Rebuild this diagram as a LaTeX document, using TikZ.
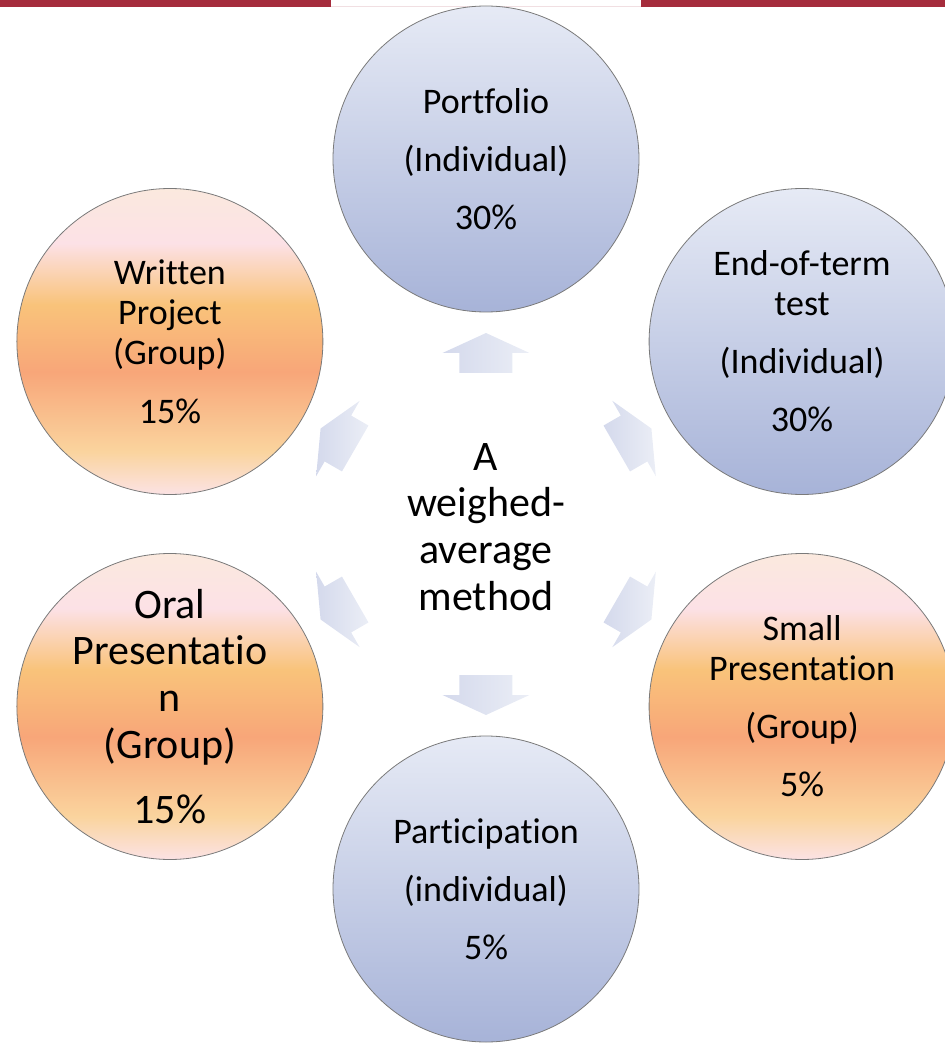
\documentclass[tikz,border=0pt]{standalone}
\usepackage{fontspec}
\setmainfont{Carlito}[Ligatures=NoCommon]
\usetikzlibrary{positioning}
\definecolor{barred}{HTML}{A52C3C}
\definecolor{btop}{HTML}{E6EAF5}
\definecolor{bbot}{HTML}{A7B3D8}
\definecolor{otop}{HTML}{FBE9DE}
\definecolor{opink}{HTML}{FCE1E6}
\definecolor{oyel}{HTML}{F9C37A}
\definecolor{osal}{HTML}{F8A679}
\definecolor{olow}{HTML}{FAD49E}
\definecolor{obot}{HTML}{FBE2E4}
\definecolor{spokelt}{HTML}{EBEEF6}
\definecolor{spokedk}{HTML}{D4D9EC}
\definecolor{rim}{HTML}{7A7A7A}
\pgfdeclareverticalshading{bluefade}{100bp}{color(0bp)=(bbot); color(25bp)=(bbot);
  color(75bp)=(btop); color(100bp)=(btop)}
\pgfdeclareverticalshading{orangefade}{100bp}{color(0bp)=(obot); color(25bp)=(obot);
  color(32bp)=(olow); color(45bp)=(osal); color(56bp)=(oyel); color(66bp)=(opink);
  color(75bp)=(otop); color(100bp)=(otop)}
\tikzset{
  bubble/.style={circle, draw=rim, line width=0.6pt, minimum size=229.5pt, inner sep=0pt,
                 align=center, font=\fontsize{27pt}{30pt}\selectfont},
  bluebub/.style={bubble, shade, shading=bluefade},
  orangebub/.style={bubble, shade, shading=orangefade},
  spoke/.style={left color=spokedk, right color=spokelt},
  hubtext/.style={align=center, font=\fontsize{31.5pt}{35pt}\selectfont},
}
\begin{document}
\begin{tikzpicture}[x=0.75pt, y=0.75pt]
    \useasboundingbox (-486,-519) rectangle (459,524);
    % top bar, broken behind the first bubble
    \fill[barred] (-486,524) rectangle (-155,517);
    \fill[barred] (155,524) rectangle (459,517);
    \fill[barred!15] (-155,518) rectangle (155,517);
    % arrows out of the hub
    \foreach \a in {90,30,-30,-90,-150,150}
      \path[spoke, rotate=\a] (151,-26.5) -- (171,-26.5) -- (171,-43.5) -- (191,0)
        -- (171,43.5) -- (171,26.5) -- (151,26.5) -- cycle;
    \node[bluebub] (port) at (90:365) {Portfolio\\[13.5pt](Individual)\\[13.5pt]30\%};
    \node[bluebub] (endterm) at (30:365) {End-of-term\\test\\[13.5pt](Individual)\\[13.5pt]30\%};
    \node[orangebub] (smallp) at (-30:365) {Small\\Presentation\\[13.5pt](Group)\\[13.5pt]5\%};
    \node[bluebub] (partic) at (-90:365) {Participation\\[13.5pt](individual)\\[13.5pt]5\%};
    \node[orangebub, font=\fontsize{31.5pt}{35pt}\selectfont] (oral) at (210:365)
      {Oral\\Presentatio\\n\\(Group)\\[14pt]15\%};
    \node[orangebub] (written) at (150:365) {Written\\Project\\(Group)\\[14pt]15\%};
    \node[hubtext] (hub) at (0,-3) {A\\weighed-\\average\\method};
  \end{tikzpicture}
\end{document}
